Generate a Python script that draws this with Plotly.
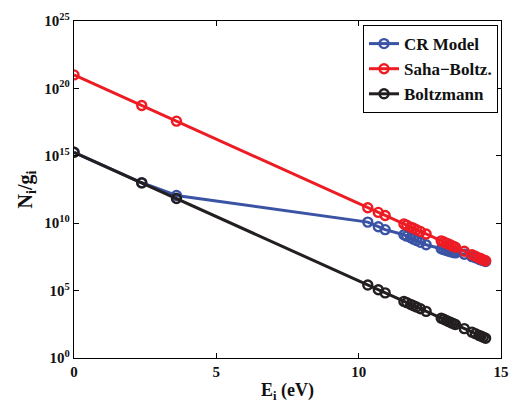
import plotly.graph_objects as go

# Level energies (eV)
energy_ev = [0.00, 2.38, 3.60, 10.32, 10.69, 10.93, 11.59, 11.69, 11.83, 11.93,
             12.03, 12.17, 12.37, 12.90, 12.99, 13.08, 13.17, 13.25, 13.33, 13.40,
             13.71, 13.98, 14.10, 14.23, 14.30, 14.38, 14.46]

# log10 of N_i/g_i for each model
cr_log10 = [15.26, 13.00, 12.06, 10.08, 9.74, 9.52, 9.14, 9.04, 8.92, 8.82,
            8.72, 8.58, 8.40, 8.10, 8.04, 7.98, 7.92, 7.87, 7.83, 7.80,
            7.70, 7.52, 7.43, 7.33, 7.28, 7.22, 7.16]
saha_log10 = [21.00, 18.73, 17.57, 11.15, 10.80, 10.57, 9.94, 9.85, 9.71, 9.62,
              9.52, 9.39, 9.20, 8.69, 8.61, 8.52, 8.44, 8.36, 8.28, 8.22,
              7.92, 7.66, 7.55, 7.42, 7.36, 7.28, 7.21]
boltz_log10 = [15.26, 12.99, 11.83, 5.41, 5.06, 4.83, 4.20, 4.11, 3.97, 3.88,
               3.78, 3.65, 3.46, 2.95, 2.87, 2.78, 2.70, 2.62, 2.54, 2.48,
               2.18, 1.92, 1.81, 1.68, 1.62, 1.54, 1.47]

series_names = ["CR Model", "Saha\u2212Boltz.", "Boltzmann"]
series_colors = ["#3a53a4", "#ed1c24", "#231f20"]
series_data = [cr_log10, saha_log10, boltz_log10]

y_tick_exponents = [0, 5, 10, 15, 20, 25]
x_tick_values = [0, 5, 10, 15]

FONT = "Liberation Serif, Times New Roman, serif"

fig = go.Figure()
for rank, (name, color, logs) in enumerate(zip(series_names, series_colors, series_data)):
    fig.add_trace(go.Scatter(
        x=energy_ev,
        y=[10.0 ** v for v in logs],
        mode="lines+markers",
        name=name,
        legendrank=rank,
        line=dict(color=color, width=3),
        marker=dict(symbol="circle-open", size=9, color=color,
                    line=dict(width=2.4, color=color)),
    ))

axis_common = dict(
    showline=True, linecolor="black", linewidth=1.3, mirror="ticks",
    ticks="inside", ticklen=5, tickwidth=1, tickcolor="black",
    showgrid=False, zeroline=False,
    tickfont=dict(family=FONT, size=15, color="#111", weight="bold"),
)

fig.update_layout(
    width=516, height=404,
    margin=dict(l=74, r=7, t=21, b=39),
    paper_bgcolor="white", plot_bgcolor="white",
    font=dict(family=FONT, color="#111"),
    xaxis=dict(
        range=[0, 15],
        tickvals=x_tick_values,
        ticktext=[str(v) for v in x_tick_values],
        title=dict(text="<b>E<sub>i</sub> (eV)</b>", font=dict(family=FONT, size=18),
                   standoff=4),
        **axis_common,
    ),
    yaxis=dict(
        type="log",
        range=[0, 25],
        tickvals=[10.0 ** e for e in y_tick_exponents],
        ticktext=["10<sup>%d</sup>" % e for e in y_tick_exponents],
        title=dict(text="<b>N<sub>i</sub>/g<sub>i</sub></b>", font=dict(family=FONT, size=20),
                   standoff=6),
        **axis_common,
    ),
    legend=dict(
        x=0.993, y=0.988, xanchor="right", yanchor="top",
        bgcolor="white", bordercolor="black", borderwidth=1,
        font=dict(family=FONT, size=17, color="#111", weight="bold"),
        itemwidth=30, tracegroupgap=0,
    ),
    showlegend=True,
)

fig.write_html("out.html")
